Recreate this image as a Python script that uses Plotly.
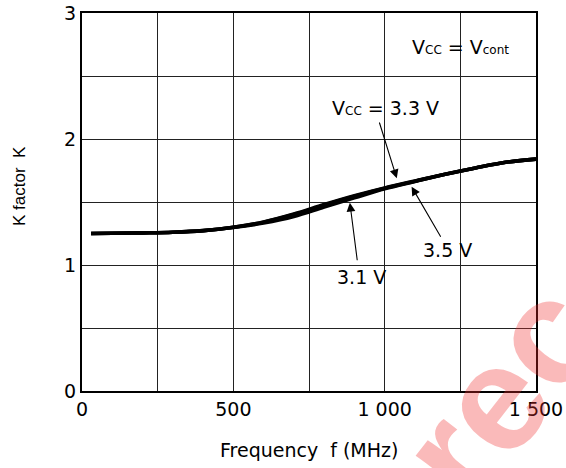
import plotly.graph_objects as go

# Frequency (MHz) and K factor for each supply voltage
freq = [30, 100, 200, 300, 400, 500, 600, 700, 800, 900, 1000, 1100, 1200, 1300, 1400, 1500]
k_33 = [1.25, 1.252, 1.255, 1.26, 1.273, 1.30, 1.34, 1.40, 1.475, 1.545, 1.61, 1.665, 1.72, 1.77, 1.815, 1.84]
k_31 = [1.25, 1.252, 1.255, 1.26, 1.272, 1.297, 1.333, 1.385, 1.46, 1.533, 1.605, 1.663, 1.72, 1.77, 1.815, 1.84]
k_35 = [1.25, 1.252, 1.255, 1.26, 1.273, 1.30, 1.342, 1.405, 1.48, 1.55, 1.612, 1.667, 1.72, 1.77, 1.815, 1.84]

x_ticks = [0, 500, 1000, 1500]
x_tick_text = ["0", "500", "1 000", "1 500"]
y_ticks = [0, 1, 2, 3]
y_tick_text = ["0", "1", "2", "3"]

FONT = "DejaVu Sans, sans-serif"
FONT_V = "Liberation Sans, Arial, sans-serif"
FS = 19

fig = go.Figure()
for k in (k_31, k_35, k_33):
    fig.add_trace(go.Scatter(
        x=freq, y=k, mode="lines", line=dict(color="black", width=3.6, shape="spline"),
        showlegend=False, hoverinfo="skip"))

small = '<span style="font-size:12px">{}</span>'

annotations = [
    # labels
    dict(x=1249, y=2.733, text="V" + small.format("CC") + " = V" + small.format("cont"), showarrow=False),
    dict(x=1003, y=2.246, text="V" + small.format("CC") + " = 3.3 V", showarrow=False),
    dict(x=1208, y=1.119, text="3.5 V", showarrow=False),
    dict(x=925, y=0.907, text="3.1 V", showarrow=False),
    # leader arrows
    dict(x=1040, y=1.688, ax=981, ay=2.143, text="", showarrow=True),
    dict(x=1089, y=1.622, ax=1188, ay=1.212, text="", showarrow=True),
    dict(x=885, y=1.494, ax=910, ay=1.026, text="", showarrow=True),
]
for a in annotations:
    a.update(xref="x", yref="y", xanchor="center", yanchor="middle",
             font=dict(family=FONT, size=FS, color="black"))
    if a["showarrow"]:
        a.update(axref="x", ayref="y", arrowhead=2, arrowsize=1.6, arrowwidth=1.1,
                 arrowcolor="black", standoff=0, startstandoff=0)
    fig.add_annotation(**a)

# axis titles
fig.add_annotation(xref="paper", yref="paper", x=0.5, y=-0.156, xanchor="center", yanchor="middle",
                   text="Frequency\u00a0\u00a0f (MHz)", showarrow=False,
                   font=dict(family=FONT, size=FS, color="black"))
fig.add_annotation(xref="paper", yref="paper", x=-0.139, y=0.542, xanchor="center", yanchor="middle",
                   text="K factor\u00a0\u00a0K", showarrow=False, textangle=-90,
                   font=dict(family=FONT_V, size=17, color="black"))

# site watermark in the lower right corner
fig.add_annotation(xref="paper", yref="paper", x=(500 - 82) / 454, y=(391 - 392) / 378,
                   xanchor="center", yanchor="middle",
                   text="<b>rec</b>", showarrow=False, textangle=-52,
                   font=dict(family="Liberation Sans, Arial, sans-serif", size=150,
                             color="rgba(240,45,45,0.33)"))

axis_common = dict(
    showgrid=True, gridcolor="#222222", gridwidth=1.2,
    showline=True, linecolor="black", linewidth=2.2, mirror=True,
    ticks="", zeroline=False, automargin=False,
    tickfont=dict(family=FONT, size=FS, color="black"),
)

fig.update_xaxes(range=[0, 1500], tickvals=x_ticks, ticktext=x_tick_text, **axis_common)
fig.update_xaxes(minor=dict(tickvals=[250, 750, 1250], showgrid=True, gridcolor="#222222", gridwidth=1.2))
fig.update_yaxes(range=[0, 3], tickvals=y_ticks, ticktext=y_tick_text, **axis_common)
fig.update_yaxes(minor=dict(tickvals=[0.5, 1.5, 2.5], showgrid=True, gridcolor="#222222", gridwidth=1.2))

fig.update_layout(
    width=566, height=468,
    margin=dict(l=82, r=30, t=13, b=77),
    plot_bgcolor="white", paper_bgcolor="white",
    font=dict(family=FONT, size=FS, color="black"),
)

fig.write_html("out.html")
